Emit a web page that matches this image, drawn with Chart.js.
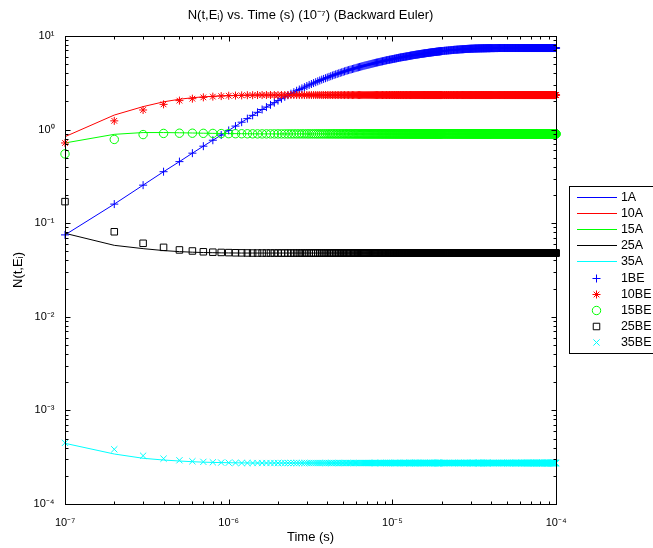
<!DOCTYPE html>
<html>
<head>
<meta charset="utf-8">
<script src="https://cdn.jsdelivr.net/npm/chart.js@4/dist/chart.umd.min.js"></script>
<style>
html,body{margin:0;padding:0;background:#fff;overflow:hidden;}
#wrap{width:653px;height:548px;position:relative;}
</style>
</head>
<body>
<div id="wrap"><canvas id="c" width="653" height="548"></canvas></div>
<script>
// ---------------- DATA ----------------
// time steps in units of 1e-7 s (t = step * 1e-7 s)
const lineSteps = [1,2,3,4,5,6,7,8,9,10,12,14,16,18,20,25,30,35,40,50,60,70,80,100,120,150,200,250,300,400,500,700,1000];
const markerSteps = [
  1,2,3,4,5,6,7,8,9,10, 11,12,13,14,15,16,17,18,19,20,
  21,22,23,24,25,26,27,28,29,30, 31,32,33,34,35,36,37,38,39,40,
  41,42,43,44,45,46,47,48,49,50, 51,52,53,54,55,56,57,58,59,60,
  61,62,63,64,65,66,67,68,69,70, 71,72,73,74,75,76,77,78,79,80,
  81,82,83,84,85,86,87,88,89,90, 91,92,93,94,95,96,97,98,99,100,
  101,102,103,104,105,106,107,108,109,110, 111,112,113,114,115,116,117,118,119,120,
  121,122,123,124,125,126,127,128,129,130, 131,132,133,134,135,136,137,138,139,140,
  141,142,143,144,145,146,147,148,149,150, 151,152,153,154,155,156,157,158,159,160,
  161,162,163,164,165,166,167,168,169,170, 171,172,173,174,175,176,177,178,179,180,
  181,182,183,184,185,186,187,188,189,190, 191,192,193,194,195,196,197,198,199,200,
  202,204,206,208,210,212,214,216,218,220, 222,224,226,228,230,232,234,236,238,240,
  242,244,246,248,250,252,254,256,258,260, 262,264,266,268,270,272,274,276,278,280,
  282,284,286,288,290,292,294,296,298,300, 302,304,306,308,310,312,314,316,318,320,
  322,324,326,328,330,332,334,336,338,340, 342,344,346,348,350,352,354,356,358,360,
  362,364,366,368,370,372,374,376,378,380, 382,384,386,388,390,392,394,396,398,400,
  403,406,409,412,415,418,421,424,427,430, 433,436,439,442,445,448,451,454,457,460,
  463,466,469,472,475,478,481,484,487,490, 493,496,499,502,505,508,511,514,517,520,
  523,526,529,532,535,538,541,544,547,550, 553,556,559,562,565,568,571,574,577,580,
  583,586,589,592,595,598,601,604,607,610, 613,616,619,622,625,628,631,634,637,640,
  643,646,649,652,655,658,661,664,667,670, 673,676,679,682,685,688,691,694,697,700,
  703,706,709,712,715,718,721,724,727,730, 733,736,739,742,745,748,751,754,757,760,
  763,766,769,772,775,778,781,784,787,790, 793,796,799,802,805,808,811,814,817,820,
  823,826,829,832,835,838,841,844,847,850, 853,856,859,862,865,868,871,874,877,880,
  883,886,889,892,895,898,901,904,907,910, 913,916,919,922,925,928,931,934,937,940,
  943,946,949,952,955,958,961,964,967,970, 973,976,979,982,985,988,991,994,997,1000
];

const seriesNames = ['1A','10A','15A','25A','35A','1BE','10BE','15BE','25BE','35BE'];

// analytical solutions (lines), at lineSteps
const A1  = [0.075,0.16,0.255,0.355,0.455,0.56,0.665,0.77,0.875,0.98, 1.2,1.42,1.64,1.84,2.04,2.51,2.92,3.28,3.6,4.14, 4.56,4.9,5.2,5.66,6.02,6.44,6.9,7.16,7.31,7.42, 7.44,7.44,7.44];
const A10 = [0.84,1.43,1.76,1.98,2.11,2.19,2.24,2.27,2.3,2.31, 2.33,2.34,2.34,2.34,2.34,2.34,2.34,2.34,2.34,2.34, 2.34,2.34,2.34,2.34,2.34,2.34,2.34,2.34,2.34,2.34, 2.34,2.34,2.34];
const A15 = [0.72,0.89,0.93,0.93,0.925,0.92,0.915,0.912,0.91,0.907, 0.904,0.902,0.9,0.9,0.9,0.9,0.9,0.9,0.9,0.9, 0.9,0.9,0.9,0.9,0.9,0.9,0.9,0.9,0.9,0.9, 0.9,0.9,0.9];
const A25 = [0.078,0.058,0.0535,0.051,0.0497,0.049,0.0486,0.0484,0.0482,0.0481, 0.048,0.048,0.048,0.048,0.048,0.048,0.048,0.048,0.048,0.048, 0.048,0.048,0.048,0.048,0.048,0.048,0.048,0.048,0.048,0.048, 0.048,0.048,0.048];
const A35 = [4.45e-4,3.42e-4,3.08e-4,2.95e-4,2.88e-4,2.83e-4,2.8e-4,2.78e-4,2.77e-4,2.76e-4, 2.75e-4,2.74e-4,2.74e-4,2.74e-4,2.74e-4,2.74e-4,2.74e-4,2.74e-4,2.74e-4,2.74e-4, 2.74e-4,2.74e-4,2.74e-4,2.74e-4,2.74e-4,2.74e-4,2.74e-4,2.74e-4,2.74e-4,2.74e-4, 2.74e-4,2.74e-4,2.74e-4];

// backward Euler solutions (markers), at markerSteps (25 lines of 20 values)
const BE1 = [
  0.075,0.16,0.255,0.355,0.455,0.56,0.665,0.77,0.875,0.98, 1.09,1.2,1.31,1.42,1.53,1.64,1.74,1.84,1.94,2.04,
  2.14,2.24,2.33,2.42,2.51,2.6,2.68,2.76,2.84,2.92, 3.0,3.07,3.14,3.21,3.28,3.35,3.42,3.48,3.54,3.6,
  3.66,3.72,3.78,3.84,3.89,3.94,3.99,4.04,4.09,4.14, 4.19,4.24,4.28,4.32,4.36,4.4,4.44,4.48,4.52,4.56,
  4.6,4.63,4.67,4.7,4.74,4.77,4.81,4.84,4.87,4.9, 4.93,4.96,4.99,5.02,5.05,5.08,5.11,5.14,5.17,5.2,
  5.22,5.25,5.27,5.3,5.32,5.35,5.37,5.4,5.42,5.45, 5.47,5.5,5.52,5.54,5.56,5.58,5.6,5.62,5.64,5.66,
  5.68,5.7,5.72,5.74,5.76,5.78,5.8,5.82,5.84,5.86, 5.88,5.9,5.915,5.93,5.945,5.96,5.975,5.99,6.005,6.02,
  6.035,6.05,6.065,6.08,6.095,6.11,6.13,6.15,6.165,6.18, 6.195,6.21,6.225,6.24,6.255,6.27,6.28,6.29,6.305,6.32,
  6.33,6.34,6.355,6.37,6.38,6.39,6.405,6.42,6.43,6.44, 6.45,6.46,6.47,6.48,6.495,6.51,6.52,6.53,6.54,6.55,
  6.56,6.57,6.58,6.59,6.6,6.61,6.62,6.63,6.64,6.65, 6.66,6.67,6.68,6.69,6.7,6.71,6.715,6.72,6.73,6.74,
  6.75,6.76,6.765,6.77,6.78,6.79,6.795,6.8,6.81,6.82, 6.83,6.84,6.845,6.85,6.86,6.87,6.875,6.88,6.89,6.9,
  6.91,6.92,6.935,6.95,6.96,6.97,6.98,6.99,7.005,7.02, 7.03,7.04,7.05,7.06,7.07,7.08,7.09,7.1,7.11,7.12,
  7.125,7.13,7.14,7.15,7.155,7.16,7.17,7.18,7.19,7.2, 7.205,7.21,7.215,7.22,7.225,7.23,7.24,7.25,7.255,7.26,
  7.265,7.27,7.275,7.28,7.285,7.29,7.295,7.3,7.305,7.31, 7.315,7.32,7.32,7.32,7.325,7.33,7.335,7.34,7.345,7.35,
  7.35,7.35,7.355,7.36,7.36,7.36,7.365,7.37,7.37,7.37, 7.375,7.38,7.38,7.38,7.38,7.38,7.385,7.39,7.39,7.39,
  7.39,7.39,7.395,7.4,7.4,7.4,7.4,7.4,7.405,7.41, 7.41,7.41,7.41,7.41,7.41,7.41,7.415,7.42,7.42,7.42,
  7.42,7.42,7.42,7.42,7.42,7.42,7.425,7.43,7.43,7.43, 7.43,7.43,7.43,7.435,7.44,7.44,7.44,7.44,7.44,7.44,
  7.44,7.44,7.44,7.44,7.44,7.44,7.44,7.44,7.44,7.44, 7.44,7.44,7.44,7.44,7.44,7.44,7.44,7.44,7.44,7.44,
  7.44,7.44,7.44,7.44,7.44,7.44,7.44,7.44,7.44,7.44, 7.44,7.44,7.44,7.44,7.44,7.44,7.44,7.44,7.44,7.44,
  7.44,7.44,7.44,7.44,7.44,7.44,7.44,7.44,7.44,7.44, 7.44,7.44,7.44,7.44,7.44,7.44,7.44,7.44,7.44,7.44,
  7.44,7.44,7.44,7.44,7.44,7.44,7.44,7.44,7.44,7.44, 7.44,7.44,7.44,7.44,7.44,7.44,7.44,7.44,7.44,7.44,
  7.44,7.44,7.44,7.44,7.44,7.44,7.44,7.44,7.44,7.44, 7.44,7.44,7.44,7.44,7.44,7.44,7.44,7.44,7.44,7.44,
  7.44,7.44,7.44,7.44,7.44,7.44,7.44,7.44,7.44,7.44, 7.44,7.44,7.44,7.44,7.44,7.44,7.44,7.44,7.44,7.44,
  7.44,7.44,7.44,7.44,7.44,7.44,7.44,7.44,7.44,7.44, 7.44,7.44,7.44,7.44,7.44,7.44,7.44,7.44,7.44,7.44,
  7.44,7.44,7.44,7.44,7.44,7.44,7.44,7.44,7.44,7.44, 7.44,7.44,7.44,7.44,7.44,7.44,7.44,7.44,7.44,7.44,
  7.44,7.44,7.44,7.44,7.44,7.44,7.44,7.44,7.44,7.44, 7.44,7.44,7.44,7.44,7.44,7.44,7.44,7.44,7.44,7.44
];
const BE10 = [
  0.72,1.24,1.62,1.86,2.04,2.14,2.21,2.25,2.28,2.3, 2.31,2.32,2.33,2.33,2.34,2.34,2.34,2.34,2.34,2.34,
  2.34,2.34,2.34,2.34,2.34,2.34,2.34,2.34,2.34,2.34, 2.34,2.34,2.34,2.34,2.34,2.34,2.34,2.34,2.34,2.34,
  2.34,2.34,2.34,2.34,2.34,2.34,2.34,2.34,2.34,2.34, 2.34,2.34,2.34,2.34,2.34,2.34,2.34,2.34,2.34,2.34,
  2.34,2.34,2.34,2.34,2.34,2.34,2.34,2.34,2.34,2.34, 2.34,2.34,2.34,2.34,2.34,2.34,2.34,2.34,2.34,2.34,
  2.34,2.34,2.34,2.34,2.34,2.34,2.34,2.34,2.34,2.34, 2.34,2.34,2.34,2.34,2.34,2.34,2.34,2.34,2.34,2.34,
  2.34,2.34,2.34,2.34,2.34,2.34,2.34,2.34,2.34,2.34, 2.34,2.34,2.34,2.34,2.34,2.34,2.34,2.34,2.34,2.34,
  2.34,2.34,2.34,2.34,2.34,2.34,2.34,2.34,2.34,2.34, 2.34,2.34,2.34,2.34,2.34,2.34,2.34,2.34,2.34,2.34,
  2.34,2.34,2.34,2.34,2.34,2.34,2.34,2.34,2.34,2.34, 2.34,2.34,2.34,2.34,2.34,2.34,2.34,2.34,2.34,2.34,
  2.34,2.34,2.34,2.34,2.34,2.34,2.34,2.34,2.34,2.34, 2.34,2.34,2.34,2.34,2.34,2.34,2.34,2.34,2.34,2.34,
  2.34,2.34,2.34,2.34,2.34,2.34,2.34,2.34,2.34,2.34, 2.34,2.34,2.34,2.34,2.34,2.34,2.34,2.34,2.34,2.34,
  2.34,2.34,2.34,2.34,2.34,2.34,2.34,2.34,2.34,2.34, 2.34,2.34,2.34,2.34,2.34,2.34,2.34,2.34,2.34,2.34,
  2.34,2.34,2.34,2.34,2.34,2.34,2.34,2.34,2.34,2.34, 2.34,2.34,2.34,2.34,2.34,2.34,2.34,2.34,2.34,2.34,
  2.34,2.34,2.34,2.34,2.34,2.34,2.34,2.34,2.34,2.34, 2.34,2.34,2.34,2.34,2.34,2.34,2.34,2.34,2.34,2.34,
  2.34,2.34,2.34,2.34,2.34,2.34,2.34,2.34,2.34,2.34, 2.34,2.34,2.34,2.34,2.34,2.34,2.34,2.34,2.34,2.34,
  2.34,2.34,2.34,2.34,2.34,2.34,2.34,2.34,2.34,2.34, 2.34,2.34,2.34,2.34,2.34,2.34,2.34,2.34,2.34,2.34,
  2.34,2.34,2.34,2.34,2.34,2.34,2.34,2.34,2.34,2.34, 2.34,2.34,2.34,2.34,2.34,2.34,2.34,2.34,2.34,2.34,
  2.34,2.34,2.34,2.34,2.34,2.34,2.34,2.34,2.34,2.34, 2.34,2.34,2.34,2.34,2.34,2.34,2.34,2.34,2.34,2.34,
  2.34,2.34,2.34,2.34,2.34,2.34,2.34,2.34,2.34,2.34, 2.34,2.34,2.34,2.34,2.34,2.34,2.34,2.34,2.34,2.34,
  2.34,2.34,2.34,2.34,2.34,2.34,2.34,2.34,2.34,2.34, 2.34,2.34,2.34,2.34,2.34,2.34,2.34,2.34,2.34,2.34,
  2.34,2.34,2.34,2.34,2.34,2.34,2.34,2.34,2.34,2.34, 2.34,2.34,2.34,2.34,2.34,2.34,2.34,2.34,2.34,2.34,
  2.34,2.34,2.34,2.34,2.34,2.34,2.34,2.34,2.34,2.34, 2.34,2.34,2.34,2.34,2.34,2.34,2.34,2.34,2.34,2.34,
  2.34,2.34,2.34,2.34,2.34,2.34,2.34,2.34,2.34,2.34, 2.34,2.34,2.34,2.34,2.34,2.34,2.34,2.34,2.34,2.34,
  2.34,2.34,2.34,2.34,2.34,2.34,2.34,2.34,2.34,2.34, 2.34,2.34,2.34,2.34,2.34,2.34,2.34,2.34,2.34,2.34,
  2.34,2.34,2.34,2.34,2.34,2.34,2.34,2.34,2.34,2.34, 2.34,2.34,2.34,2.34,2.34,2.34,2.34,2.34,2.34,2.34,
  2.34,2.34,2.34,2.34,2.34,2.34,2.34,2.34,2.34,2.34, 2.34,2.34,2.34,2.34,2.34,2.34,2.34,2.34,2.34,2.34
];
const BE15 = [
  0.55,0.785,0.885,0.91,0.915,0.915,0.912,0.91,0.907,0.905, 0.904,0.903,0.902,0.901,0.9,0.9,0.9,0.9,0.9,0.9,
  0.9,0.9,0.9,0.9,0.9,0.9,0.9,0.9,0.9,0.9, 0.9,0.9,0.9,0.9,0.9,0.9,0.9,0.9,0.9,0.9,
  0.9,0.9,0.9,0.9,0.9,0.9,0.9,0.9,0.9,0.9, 0.9,0.9,0.9,0.9,0.9,0.9,0.9,0.9,0.9,0.9,
  0.9,0.9,0.9,0.9,0.9,0.9,0.9,0.9,0.9,0.9, 0.9,0.9,0.9,0.9,0.9,0.9,0.9,0.9,0.9,0.9,
  0.9,0.9,0.9,0.9,0.9,0.9,0.9,0.9,0.9,0.9, 0.9,0.9,0.9,0.9,0.9,0.9,0.9,0.9,0.9,0.9,
  0.9,0.9,0.9,0.9,0.9,0.9,0.9,0.9,0.9,0.9, 0.9,0.9,0.9,0.9,0.9,0.9,0.9,0.9,0.9,0.9,
  0.9,0.9,0.9,0.9,0.9,0.9,0.9,0.9,0.9,0.9, 0.9,0.9,0.9,0.9,0.9,0.9,0.9,0.9,0.9,0.9,
  0.9,0.9,0.9,0.9,0.9,0.9,0.9,0.9,0.9,0.9, 0.9,0.9,0.9,0.9,0.9,0.9,0.9,0.9,0.9,0.9,
  0.9,0.9,0.9,0.9,0.9,0.9,0.9,0.9,0.9,0.9, 0.9,0.9,0.9,0.9,0.9,0.9,0.9,0.9,0.9,0.9,
  0.9,0.9,0.9,0.9,0.9,0.9,0.9,0.9,0.9,0.9, 0.9,0.9,0.9,0.9,0.9,0.9,0.9,0.9,0.9,0.9,
  0.9,0.9,0.9,0.9,0.9,0.9,0.9,0.9,0.9,0.9, 0.9,0.9,0.9,0.9,0.9,0.9,0.9,0.9,0.9,0.9,
  0.9,0.9,0.9,0.9,0.9,0.9,0.9,0.9,0.9,0.9, 0.9,0.9,0.9,0.9,0.9,0.9,0.9,0.9,0.9,0.9,
  0.9,0.9,0.9,0.9,0.9,0.9,0.9,0.9,0.9,0.9, 0.9,0.9,0.9,0.9,0.9,0.9,0.9,0.9,0.9,0.9,
  0.9,0.9,0.9,0.9,0.9,0.9,0.9,0.9,0.9,0.9, 0.9,0.9,0.9,0.9,0.9,0.9,0.9,0.9,0.9,0.9,
  0.9,0.9,0.9,0.9,0.9,0.9,0.9,0.9,0.9,0.9, 0.9,0.9,0.9,0.9,0.9,0.9,0.9,0.9,0.9,0.9,
  0.9,0.9,0.9,0.9,0.9,0.9,0.9,0.9,0.9,0.9, 0.9,0.9,0.9,0.9,0.9,0.9,0.9,0.9,0.9,0.9,
  0.9,0.9,0.9,0.9,0.9,0.9,0.9,0.9,0.9,0.9, 0.9,0.9,0.9,0.9,0.9,0.9,0.9,0.9,0.9,0.9,
  0.9,0.9,0.9,0.9,0.9,0.9,0.9,0.9,0.9,0.9, 0.9,0.9,0.9,0.9,0.9,0.9,0.9,0.9,0.9,0.9,
  0.9,0.9,0.9,0.9,0.9,0.9,0.9,0.9,0.9,0.9, 0.9,0.9,0.9,0.9,0.9,0.9,0.9,0.9,0.9,0.9,
  0.9,0.9,0.9,0.9,0.9,0.9,0.9,0.9,0.9,0.9, 0.9,0.9,0.9,0.9,0.9,0.9,0.9,0.9,0.9,0.9,
  0.9,0.9,0.9,0.9,0.9,0.9,0.9,0.9,0.9,0.9, 0.9,0.9,0.9,0.9,0.9,0.9,0.9,0.9,0.9,0.9,
  0.9,0.9,0.9,0.9,0.9,0.9,0.9,0.9,0.9,0.9, 0.9,0.9,0.9,0.9,0.9,0.9,0.9,0.9,0.9,0.9,
  0.9,0.9,0.9,0.9,0.9,0.9,0.9,0.9,0.9,0.9, 0.9,0.9,0.9,0.9,0.9,0.9,0.9,0.9,0.9,0.9,
  0.9,0.9,0.9,0.9,0.9,0.9,0.9,0.9,0.9,0.9, 0.9,0.9,0.9,0.9,0.9,0.9,0.9,0.9,0.9,0.9,
  0.9,0.9,0.9,0.9,0.9,0.9,0.9,0.9,0.9,0.9, 0.9,0.9,0.9,0.9,0.9,0.9,0.9,0.9,0.9,0.9
];
const BE25 = [
  0.17,0.081,0.061,0.0552,0.0518,0.0505,0.0495,0.049,0.0487,0.0485, 0.0483,0.0482,0.0481,0.048,0.048,0.048,0.048,0.048,0.048,0.048,
  0.048,0.048,0.048,0.048,0.048,0.048,0.048,0.048,0.048,0.048, 0.048,0.048,0.048,0.048,0.048,0.048,0.048,0.048,0.048,0.048,
  0.048,0.048,0.048,0.048,0.048,0.048,0.048,0.048,0.048,0.048, 0.048,0.048,0.048,0.048,0.048,0.048,0.048,0.048,0.048,0.048,
  0.048,0.048,0.048,0.048,0.048,0.048,0.048,0.048,0.048,0.048, 0.048,0.048,0.048,0.048,0.048,0.048,0.048,0.048,0.048,0.048,
  0.048,0.048,0.048,0.048,0.048,0.048,0.048,0.048,0.048,0.048, 0.048,0.048,0.048,0.048,0.048,0.048,0.048,0.048,0.048,0.048,
  0.048,0.048,0.048,0.048,0.048,0.048,0.048,0.048,0.048,0.048, 0.048,0.048,0.048,0.048,0.048,0.048,0.048,0.048,0.048,0.048,
  0.048,0.048,0.048,0.048,0.048,0.048,0.048,0.048,0.048,0.048, 0.048,0.048,0.048,0.048,0.048,0.048,0.048,0.048,0.048,0.048,
  0.048,0.048,0.048,0.048,0.048,0.048,0.048,0.048,0.048,0.048, 0.048,0.048,0.048,0.048,0.048,0.048,0.048,0.048,0.048,0.048,
  0.048,0.048,0.048,0.048,0.048,0.048,0.048,0.048,0.048,0.048, 0.048,0.048,0.048,0.048,0.048,0.048,0.048,0.048,0.048,0.048,
  0.048,0.048,0.048,0.048,0.048,0.048,0.048,0.048,0.048,0.048, 0.048,0.048,0.048,0.048,0.048,0.048,0.048,0.048,0.048,0.048,
  0.048,0.048,0.048,0.048,0.048,0.048,0.048,0.048,0.048,0.048, 0.048,0.048,0.048,0.048,0.048,0.048,0.048,0.048,0.048,0.048,
  0.048,0.048,0.048,0.048,0.048,0.048,0.048,0.048,0.048,0.048, 0.048,0.048,0.048,0.048,0.048,0.048,0.048,0.048,0.048,0.048,
  0.048,0.048,0.048,0.048,0.048,0.048,0.048,0.048,0.048,0.048, 0.048,0.048,0.048,0.048,0.048,0.048,0.048,0.048,0.048,0.048,
  0.048,0.048,0.048,0.048,0.048,0.048,0.048,0.048,0.048,0.048, 0.048,0.048,0.048,0.048,0.048,0.048,0.048,0.048,0.048,0.048,
  0.048,0.048,0.048,0.048,0.048,0.048,0.048,0.048,0.048,0.048, 0.048,0.048,0.048,0.048,0.048,0.048,0.048,0.048,0.048,0.048,
  0.048,0.048,0.048,0.048,0.048,0.048,0.048,0.048,0.048,0.048, 0.048,0.048,0.048,0.048,0.048,0.048,0.048,0.048,0.048,0.048,
  0.048,0.048,0.048,0.048,0.048,0.048,0.048,0.048,0.048,0.048, 0.048,0.048,0.048,0.048,0.048,0.048,0.048,0.048,0.048,0.048,
  0.048,0.048,0.048,0.048,0.048,0.048,0.048,0.048,0.048,0.048, 0.048,0.048,0.048,0.048,0.048,0.048,0.048,0.048,0.048,0.048,
  0.048,0.048,0.048,0.048,0.048,0.048,0.048,0.048,0.048,0.048, 0.048,0.048,0.048,0.048,0.048,0.048,0.048,0.048,0.048,0.048,
  0.048,0.048,0.048,0.048,0.048,0.048,0.048,0.048,0.048,0.048, 0.048,0.048,0.048,0.048,0.048,0.048,0.048,0.048,0.048,0.048,
  0.048,0.048,0.048,0.048,0.048,0.048,0.048,0.048,0.048,0.048, 0.048,0.048,0.048,0.048,0.048,0.048,0.048,0.048,0.048,0.048,
  0.048,0.048,0.048,0.048,0.048,0.048,0.048,0.048,0.048,0.048, 0.048,0.048,0.048,0.048,0.048,0.048,0.048,0.048,0.048,0.048,
  0.048,0.048,0.048,0.048,0.048,0.048,0.048,0.048,0.048,0.048, 0.048,0.048,0.048,0.048,0.048,0.048,0.048,0.048,0.048,0.048,
  0.048,0.048,0.048,0.048,0.048,0.048,0.048,0.048,0.048,0.048, 0.048,0.048,0.048,0.048,0.048,0.048,0.048,0.048,0.048,0.048,
  0.048,0.048,0.048,0.048,0.048,0.048,0.048,0.048,0.048,0.048, 0.048,0.048,0.048,0.048,0.048,0.048,0.048,0.048,0.048,0.048
];
const BE35 = [
  4.5e-4,3.84e-4,3.28e-4,3.05e-4,2.93e-4,2.86e-4,2.82e-4,2.79e-4,2.77e-4,2.76e-4, 2.75e-4,2.74e-4,2.74e-4,2.74e-4,2.74e-4,2.74e-4,2.74e-4,2.74e-4,2.74e-4,2.74e-4,
  2.74e-4,2.74e-4,2.74e-4,2.74e-4,2.74e-4,2.74e-4,2.74e-4,2.74e-4,2.74e-4,2.74e-4, 2.74e-4,2.74e-4,2.74e-4,2.74e-4,2.74e-4,2.74e-4,2.74e-4,2.74e-4,2.74e-4,2.74e-4,
  2.74e-4,2.74e-4,2.74e-4,2.74e-4,2.74e-4,2.74e-4,2.74e-4,2.74e-4,2.74e-4,2.74e-4, 2.74e-4,2.74e-4,2.74e-4,2.74e-4,2.74e-4,2.74e-4,2.74e-4,2.74e-4,2.74e-4,2.74e-4,
  2.74e-4,2.74e-4,2.74e-4,2.74e-4,2.74e-4,2.74e-4,2.74e-4,2.74e-4,2.74e-4,2.74e-4, 2.74e-4,2.74e-4,2.74e-4,2.74e-4,2.74e-4,2.74e-4,2.74e-4,2.74e-4,2.74e-4,2.74e-4,
  2.74e-4,2.74e-4,2.74e-4,2.74e-4,2.74e-4,2.74e-4,2.74e-4,2.74e-4,2.74e-4,2.74e-4, 2.74e-4,2.74e-4,2.74e-4,2.74e-4,2.74e-4,2.74e-4,2.74e-4,2.74e-4,2.74e-4,2.74e-4,
  2.74e-4,2.74e-4,2.74e-4,2.74e-4,2.74e-4,2.74e-4,2.74e-4,2.74e-4,2.74e-4,2.74e-4, 2.74e-4,2.74e-4,2.74e-4,2.74e-4,2.74e-4,2.74e-4,2.74e-4,2.74e-4,2.74e-4,2.74e-4,
  2.74e-4,2.74e-4,2.74e-4,2.74e-4,2.74e-4,2.74e-4,2.74e-4,2.74e-4,2.74e-4,2.74e-4, 2.74e-4,2.74e-4,2.74e-4,2.74e-4,2.74e-4,2.74e-4,2.74e-4,2.74e-4,2.74e-4,2.74e-4,
  2.74e-4,2.74e-4,2.74e-4,2.74e-4,2.74e-4,2.74e-4,2.74e-4,2.74e-4,2.74e-4,2.74e-4, 2.74e-4,2.74e-4,2.74e-4,2.74e-4,2.74e-4,2.74e-4,2.74e-4,2.74e-4,2.74e-4,2.74e-4,
  2.74e-4,2.74e-4,2.74e-4,2.74e-4,2.74e-4,2.74e-4,2.74e-4,2.74e-4,2.74e-4,2.74e-4, 2.74e-4,2.74e-4,2.74e-4,2.74e-4,2.74e-4,2.74e-4,2.74e-4,2.74e-4,2.74e-4,2.74e-4,
  2.74e-4,2.74e-4,2.74e-4,2.74e-4,2.74e-4,2.74e-4,2.74e-4,2.74e-4,2.74e-4,2.74e-4, 2.74e-4,2.74e-4,2.74e-4,2.74e-4,2.74e-4,2.74e-4,2.74e-4,2.74e-4,2.74e-4,2.74e-4,
  2.74e-4,2.74e-4,2.74e-4,2.74e-4,2.74e-4,2.74e-4,2.74e-4,2.74e-4,2.74e-4,2.74e-4, 2.74e-4,2.74e-4,2.74e-4,2.74e-4,2.74e-4,2.74e-4,2.74e-4,2.74e-4,2.74e-4,2.74e-4,
  2.74e-4,2.74e-4,2.74e-4,2.74e-4,2.74e-4,2.74e-4,2.74e-4,2.74e-4,2.74e-4,2.74e-4, 2.74e-4,2.74e-4,2.74e-4,2.74e-4,2.74e-4,2.74e-4,2.74e-4,2.74e-4,2.74e-4,2.74e-4,
  2.74e-4,2.74e-4,2.74e-4,2.74e-4,2.74e-4,2.74e-4,2.74e-4,2.74e-4,2.74e-4,2.74e-4, 2.74e-4,2.74e-4,2.74e-4,2.74e-4,2.74e-4,2.74e-4,2.74e-4,2.74e-4,2.74e-4,2.74e-4,
  2.74e-4,2.74e-4,2.74e-4,2.74e-4,2.74e-4,2.74e-4,2.74e-4,2.74e-4,2.74e-4,2.74e-4, 2.74e-4,2.74e-4,2.74e-4,2.74e-4,2.74e-4,2.74e-4,2.74e-4,2.74e-4,2.74e-4,2.74e-4,
  2.74e-4,2.74e-4,2.74e-4,2.74e-4,2.74e-4,2.74e-4,2.74e-4,2.74e-4,2.74e-4,2.74e-4, 2.74e-4,2.74e-4,2.74e-4,2.74e-4,2.74e-4,2.74e-4,2.74e-4,2.74e-4,2.74e-4,2.74e-4,
  2.74e-4,2.74e-4,2.74e-4,2.74e-4,2.74e-4,2.74e-4,2.74e-4,2.74e-4,2.74e-4,2.74e-4, 2.74e-4,2.74e-4,2.74e-4,2.74e-4,2.74e-4,2.74e-4,2.74e-4,2.74e-4,2.74e-4,2.74e-4,
  2.74e-4,2.74e-4,2.74e-4,2.74e-4,2.74e-4,2.74e-4,2.74e-4,2.74e-4,2.74e-4,2.74e-4, 2.74e-4,2.74e-4,2.74e-4,2.74e-4,2.74e-4,2.74e-4,2.74e-4,2.74e-4,2.74e-4,2.74e-4,
  2.74e-4,2.74e-4,2.74e-4,2.74e-4,2.74e-4,2.74e-4,2.74e-4,2.74e-4,2.74e-4,2.74e-4, 2.74e-4,2.74e-4,2.74e-4,2.74e-4,2.74e-4,2.74e-4,2.74e-4,2.74e-4,2.74e-4,2.74e-4,
  2.74e-4,2.74e-4,2.74e-4,2.74e-4,2.74e-4,2.74e-4,2.74e-4,2.74e-4,2.74e-4,2.74e-4, 2.74e-4,2.74e-4,2.74e-4,2.74e-4,2.74e-4,2.74e-4,2.74e-4,2.74e-4,2.74e-4,2.74e-4,
  2.74e-4,2.74e-4,2.74e-4,2.74e-4,2.74e-4,2.74e-4,2.74e-4,2.74e-4,2.74e-4,2.74e-4, 2.74e-4,2.74e-4,2.74e-4,2.74e-4,2.74e-4,2.74e-4,2.74e-4,2.74e-4,2.74e-4,2.74e-4,
  2.74e-4,2.74e-4,2.74e-4,2.74e-4,2.74e-4,2.74e-4,2.74e-4,2.74e-4,2.74e-4,2.74e-4, 2.74e-4,2.74e-4,2.74e-4,2.74e-4,2.74e-4,2.74e-4,2.74e-4,2.74e-4,2.74e-4,2.74e-4,
  2.74e-4,2.74e-4,2.74e-4,2.74e-4,2.74e-4,2.74e-4,2.74e-4,2.74e-4,2.74e-4,2.74e-4, 2.74e-4,2.74e-4,2.74e-4,2.74e-4,2.74e-4,2.74e-4,2.74e-4,2.74e-4,2.74e-4,2.74e-4,
  2.74e-4,2.74e-4,2.74e-4,2.74e-4,2.74e-4,2.74e-4,2.74e-4,2.74e-4,2.74e-4,2.74e-4, 2.74e-4,2.74e-4,2.74e-4,2.74e-4,2.74e-4,2.74e-4,2.74e-4,2.74e-4,2.74e-4,2.74e-4,
  2.74e-4,2.74e-4,2.74e-4,2.74e-4,2.74e-4,2.74e-4,2.74e-4,2.74e-4,2.74e-4,2.74e-4, 2.74e-4,2.74e-4,2.74e-4,2.74e-4,2.74e-4,2.74e-4,2.74e-4,2.74e-4,2.74e-4,2.74e-4,
  2.74e-4,2.74e-4,2.74e-4,2.74e-4,2.74e-4,2.74e-4,2.74e-4,2.74e-4,2.74e-4,2.74e-4, 2.74e-4,2.74e-4,2.74e-4,2.74e-4,2.74e-4,2.74e-4,2.74e-4,2.74e-4,2.74e-4,2.74e-4
];

// axis ticks
const xDecades = [1e-7, 1e-6, 1e-5, 1e-4];
const xTickLabels = ['10\u207B\u2077', '10\u207B\u2076', '10\u207B\u2075', '10\u207B\u2074'];
const yDecades = [1e-4, 1e-3, 1e-2, 1e-1, 1, 10];
const yTickLabels = ['10\u207B\u2074', '10\u207B\u00B3', '10\u207B\u00B2', '10\u207B\u00B9', '10\u2070', '10\u00B9'];
const minorMultipliers = [2, 3, 4, 5, 6, 7, 8, 9];

// ---------------- STYLE ----------------
const colors = ['#0000ff', '#ff0000', '#00ff00', '#000000', '#00ffff'];
const markerStyles = ['cross', 'star', 'circle', 'rect', 'crossRot'];
const markerRadii = [4, 4, 4.2, 4.6, 4.4];
const FONT = '"Liberation Sans", Arial, Helvetica, sans-serif';

const lineSeries = [A1, A10, A15, A25, A35];
const markerSeries = [BE1, BE10, BE15, BE25, BE35];
const problems = [];
lineSeries.forEach((s, i) => { if (s.length !== lineSteps.length) problems.push('line ' + i + ': ' + s.length); });
markerSeries.forEach((s, i) => { if (s.length !== markerSteps.length) problems.push('marker ' + i + ': ' + s.length + ' vs ' + markerSteps.length); });
if (problems.length) throw new Error(problems.join('; '));

const toPoints = (steps, vals) => steps.map((k, i) => ({ x: k * 1e-7, y: vals[i] }));

const datasets = [];
lineSeries.forEach((vals, i) => {
  datasets.push({
    label: seriesNames[i], data: toPoints(lineSteps, vals), showLine: true,
    borderColor: colors[i], borderWidth: 1, pointRadius: 0, fill: false, tension: 0,
    order: 10 - i
  });
});
markerSeries.forEach((vals, i) => {
  datasets.push({
    label: seriesNames[5 + i], data: toPoints(markerSteps, vals), showLine: false,
    pointStyle: markerStyles[i], pointRadius: markerRadii[i],
    pointBorderColor: colors[i], pointBackgroundColor: 'rgba(0,0,0,0)', pointBorderWidth: 1,
    borderColor: colors[i], clip: false, order: 5 - i
  });
});

// legend icons
function lineIcon(color) {
  const c = document.createElement('canvas'); c.width = 40; c.height = 3;
  const g = c.getContext('2d'); g.strokeStyle = color; g.lineWidth = 1;
  g.beginPath(); g.moveTo(0, 1.5); g.lineTo(40, 1.5); g.stroke(); return c;
}
function markerIcon(style, color, r) {
  const c = document.createElement('canvas'); c.width = 13; c.height = 13;
  const g = c.getContext('2d'); g.strokeStyle = color; g.lineWidth = 1;
  const x = 6.5, y = 6.5, d = r * Math.SQRT1_2;
  g.beginPath();
  if (style === 'cross' || style === 'star') { g.moveTo(x - r, y); g.lineTo(x + r, y); g.moveTo(x, y - r); g.lineTo(x, y + r); }
  if (style === 'crossRot' || style === 'star') { g.moveTo(x - d, y - d); g.lineTo(x + d, y + d); g.moveTo(x - d, y + d); g.lineTo(x + d, y - d); }
  if (style === 'circle') { g.arc(x, y, r, 0, Math.PI * 2); }
  if (style === 'rect') { g.rect(x - d, y - d, 2 * d, 2 * d); }
  g.stroke(); return c;
}
const legendIcons = colors.map(c => lineIcon(c)).concat(markerStyles.map((s, i) => markerIcon(s, colors[i], markerRadii[i])));

function isDecade(v, list) { return list.findIndex(t => Math.abs(Math.log10(t) - Math.log10(v)) < 1e-6); }
function allTicks(decades) {
  const out = [];
  decades.forEach((d, i) => {
    out.push(d);
    if (i < decades.length - 1) minorMultipliers.forEach(m => out.push(d * m));
  });
  return out;
}

const decorPlugin = {
  id: 'decor',
  beforeDraw(chart) { chart.ctx.imageSmoothingEnabled = false; },
  afterDraw(chart) {
    const ctx = chart.ctx;
    const { left, right, top, bottom } = chart.chartArea;
    const L = Math.round(left) + 0.5, R = Math.round(right) + 0.5, T = Math.round(top) + 0.5, B = Math.round(bottom) + 0.5;
    ctx.save();
    ctx.strokeStyle = '#000'; ctx.lineWidth = 1;
    ctx.strokeRect(L, T, R - L, B - T);
    ctx.beginPath();
    const xs = chart.scales.x, ys = chart.scales.y;
    xs.ticks.forEach(t => {
      const p = Math.round(xs.getPixelForValue(t.value)) + 0.5;
      const len = isDecade(t.value, xDecades) >= 0 ? 5 : 3;
      ctx.moveTo(p, B); ctx.lineTo(p, B - len);
      ctx.moveTo(p, T); ctx.lineTo(p, T + len);
    });
    ys.ticks.forEach(t => {
      const p = Math.round(ys.getPixelForValue(t.value)) + 0.5;
      const len = isDecade(t.value, yDecades) >= 0 ? 5 : 3;
      ctx.moveTo(L, p); ctx.lineTo(L + len, p);
      ctx.moveTo(R, p); ctx.lineTo(R - len, p);
    });
    ctx.stroke();
    // legend frame
    const hb = chart.legend && chart.legend.legendHitBoxes;
    if (hb && hb.length) {
      const first = hb[0], last = hb[hb.length - 1];
      const fl = Math.round(first.left - 9.5) + 0.5;
      const ft = Math.round(first.top + first.height / 2 - 11) + 0.5;
      const fb = Math.round(last.top + last.height / 2 + 10) + 0.5;
      ctx.strokeRect(fl, ft, 720 - fl, fb - ft);
    }
    ctx.restore();
  }
};

Chart.defaults.font.family = FONT;
Chart.defaults.font.size = 11;
Chart.defaults.color = '#000';

new Chart(document.getElementById('c'), {
  type: 'scatter',
  data: { datasets },
  options: {
    responsive: false,
    devicePixelRatio: 1,
    animation: false,
    events: [],
    layout: { padding: { left: 0, right: -8.5, top: 0, bottom: 0 } },
    plugins: {
      title: {
        display: true, text: 'N(t,E\u1D62) vs. Time (s) (10\u207B\u2077) (Backward Euler)',
        font: { size: 13, weight: 'normal', family: FONT }, color: '#000',
        padding: { top: 7.2, bottom: 13.2 }, fullSize: false
      },
      legend: {
        display: true, position: 'right', align: 'center', fullSize: false,
        labels: {
          usePointStyle: true, pointStyleWidth: 36, padding: 3.7,
          font: { size: 12.5, family: FONT }, color: '#000',
          generateLabels(chart) {
            return chart.data.datasets.map((ds, i) => ({
              text: ds.label, pointStyle: legendIcons[i], fillStyle: 'rgba(0,0,0,0)',
              strokeStyle: 'rgba(0,0,0,0)', lineWidth: 0, hidden: false, datasetIndex: i, fontColor: '#000'
            }));
          }
        }
      },
      tooltip: { enabled: false }
    },
    scales: {
      x: {
        type: 'logarithmic', position: 'bottom', min: 1e-7, max: 1e-4,
        grid: { display: false, drawTicks: false }, border: { display: false },
        afterBuildTicks: s => { s.ticks = allTicks(xDecades).map(v => ({ value: v })); },
        ticks: {
          autoSkip: false, maxRotation: 0, minRotation: 0, padding: 12, color: '#000',
          font: { size: 11, family: FONT },
          callback: v => { const i = isDecade(v, xDecades); return i >= 0 ? xTickLabels[i] : ''; }
        },
        title: { display: true, text: 'Time (s)', color: '#000', font: { size: 13, family: FONT }, padding: { top: 0, bottom: 3.2 } },
        afterFit: s => { s.height = 44; }
      },
      y: {
        type: 'logarithmic', position: 'left', min: 1e-4, max: 10,
        grid: { display: false, drawTicks: false }, border: { display: false },
        afterBuildTicks: s => { s.ticks = allTicks(yDecades).map(v => ({ value: v })); },
        ticks: {
          autoSkip: false, padding: 10.5, color: '#000',
          font: { size: 11, family: FONT },
          callback: v => { const i = isDecade(v, yDecades); return i >= 0 ? yTickLabels[i] : ''; }
        },
        title: { display: true, text: 'N(t,E\u1D62)', color: '#000', font: { size: 13, family: FONT }, padding: { top: 10.2, bottom: 0 } },
        afterFit: s => { s.width = 65; }
      },
      yR: {
        type: 'linear', position: 'right', display: true,
        grid: { display: false, drawTicks: false }, border: { display: false },
        ticks: { display: false },
        afterFit: s => { s.width = 18.85; }
      }
    }
  },
  plugins: [decorPlugin]
});
</script>
</body>
</html>
